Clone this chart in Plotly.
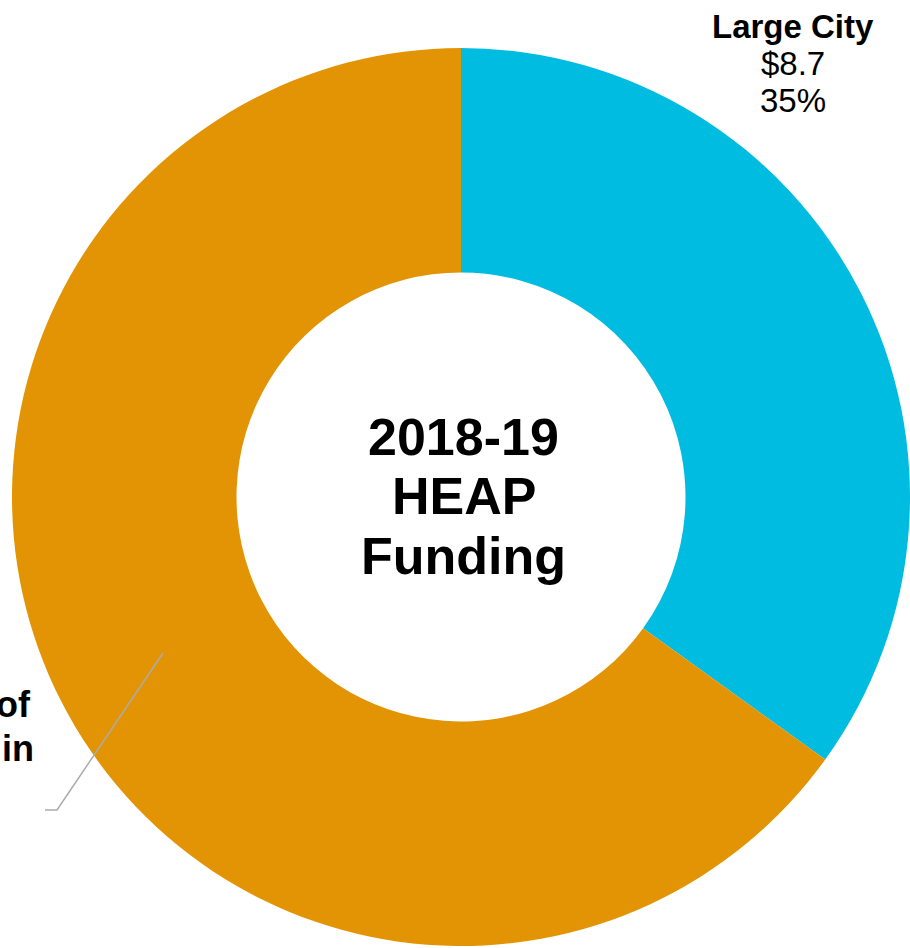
import plotly.graph_objects as go

# Data
categories = ["Large City", "Continuum of Care"]
values = [8.7, 16.2]
shares = ["35%", "65%"]
colors = ["#00BCE1", "#E39404"]
center_title = ["2018-19", "HEAP", "Funding"]
left_label_lines = ["Continuum of", "Care Funding in"]

W, H = 910, 948
FONT = "Liberation Sans, Arial, sans-serif"


def px_x(x):
    return x / W


def px_y(y):
    return 1 - y / H


fig = go.Figure()
fig.add_trace(go.Pie(
    labels=categories,
    values=values,
    hole=0.5,
    sort=False,
    direction="clockwise",
    rotation=0,
    textinfo="none",
    hoverinfo="label+value+percent",
    marker=dict(colors=colors, line=dict(width=0)),
    domain=dict(x=[12 / W, 1.0], y=[2 / H, 1 - 48 / H]),
    showlegend=False,
))

# Center title, one line per annotation
for txt, yc in zip(center_title, [437, 496, 556]):
    fig.add_annotation(
        x=px_x(464), y=px_y(yc), xref="paper", yref="paper",
        text=f"<b>{txt}</b>", showarrow=False,
        xanchor="center", yanchor="middle",
        font=dict(family=FONT, size=52, color="#000000"),
    )

# Large City label
lc_lines = [f"<b>{categories[0]}</b>", f"${values[0]}", shares[0]]
for txt, yc in zip(lc_lines, [26, 64, 101]):
    fig.add_annotation(
        x=px_x(793), y=px_y(yc), xref="paper", yref="paper",
        text=txt, showarrow=False,
        xanchor="center", yanchor="middle",
        font=dict(family=FONT, size=33, color="#000000"),
    )

# Cut-off left label (right-aligned lines, clipped by the left edge as in the reference)
for txt, yc, xr in zip(left_label_lines, [704, 748], [33, 36]):
    fig.add_annotation(
        x=px_x(xr), y=px_y(yc), xref="paper", yref="paper",
        text=f"<b>{txt}</b>", showarrow=False,
        xanchor="right", yanchor="middle",
        font=dict(family=FONT, size=36, color="#000000"),
    )

# Leader line
fig.add_shape(
    type="path", xref="paper", yref="paper",
    path=f"M {px_x(163)} {px_y(653)} L {px_x(57)} {px_y(810)} L {px_x(45)} {px_y(810)}",
    line=dict(color="#ABABAB", width=1.5),
)

fig.update_layout(
    width=W, height=H,
    margin=dict(l=0, r=0, t=0, b=0),
    paper_bgcolor="#FFFFFF",
    plot_bgcolor="#FFFFFF",
)

fig.write_html(
    "out.html",
    config={"displayModeBar": False},
    post_script="document.body.style.margin='0';document.body.style.overflow='hidden';",
)
